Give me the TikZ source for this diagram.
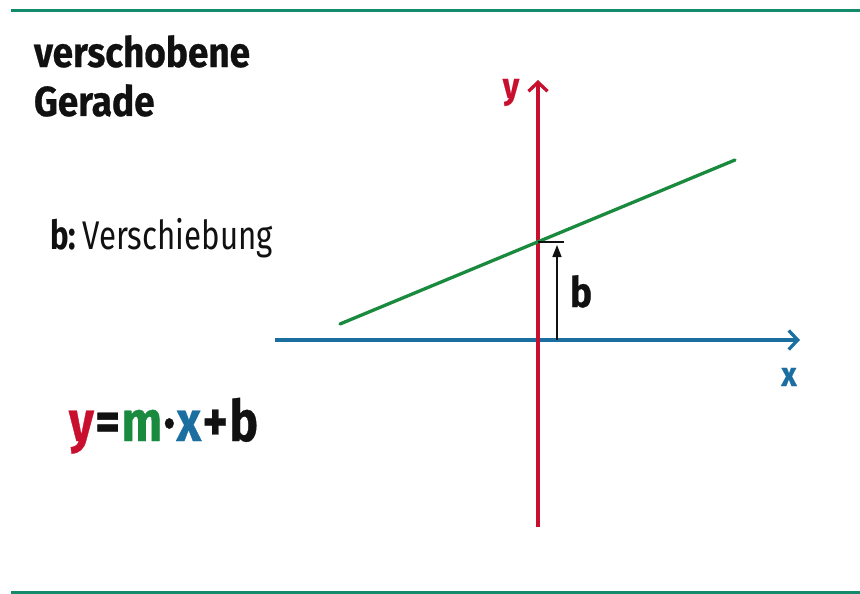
\documentclass[tikz,border=0pt]{standalone}
\usepackage{fontspec}
\setmainfont{Fira Sans}
\newfontfamily\titlefont{Fira Sans}[FakeStretch=0.88,BoldFeatures={FakeBold=0.6}]
\newfontfamily\descfont{Fira Sans}[FakeStretch=0.78]
\newfontfamily\formfont{Fira Sans}[FakeStretch=0.84,BoldFeatures={FakeBold=0.6}]
\usetikzlibrary{arrows.meta}
\definecolor{axred}{HTML}{C8102E}
\definecolor{axblue}{HTML}{1B6FA0}
\definecolor{lngreen}{HTML}{1A8A3E}
\definecolor{rulegreen}{HTML}{138A6A}
\definecolor{txtblack}{HTML}{111111}
\begin{document}
\begin{tikzpicture}[x=1pt,y=-1pt,
  rulestyle/.style={rulegreen,line width=3pt},
  axisstyle/.style={line width=3.3pt,-{Straight Barb[length=9pt,width=19pt]}},
  lbl/.style={inner sep=0pt,outer sep=0pt,text=txtblack}]
\useasboundingbox (0,0) rectangle (860,594);
% rules
\coordinate (rtl) at (11,11); \coordinate (rtr) at (860,11);
\coordinate (rbl) at (11,592); \coordinate (rbr) at (860,592);
\draw[rulestyle] (rtl) -- (rtr);
\draw[rulestyle] (rbl) -- (rbr);
% title
\node[lbl,anchor=base west] (t1) at (34,67) {\titlefont\bfseries\fontsize{42}{42}\selectfont verschobene};
\node[lbl,anchor=base west] (t2) at (34,116) {\titlefont\bfseries\fontsize{42}{42}\selectfont Gerade};
\node[lbl,anchor=base west] (desc) at (50,249) {\descfont\fontsize{40}{40}\selectfont\textbf{b:}\,Verschiebung};
\node[lbl,anchor=base west] (form) at (69,441) {\formfont\bfseries\fontsize{57}{57}\selectfont\textcolor{axred}{y}\hspace{1.5pt}=\hspace{1.5pt}\textcolor{lngreen}{m}\hspace{1.5pt}\textcolor{txtblack}{·}\hspace{1.5pt}\textcolor{axblue}{x}\hspace{1.5pt}+\hspace{1.5pt}b};
% axes
\coordinate (xl) at (275,340); \coordinate (xr) at (800,340);
\coordinate (yb) at (538,527); \coordinate (yt) at (538,80);
\draw[axisstyle,axblue] (xl) -- (xr);
\draw[axisstyle,axred] (yb) -- (yt);
\node[lbl,anchor=base,text=axblue] (xlab) at (789,386) {\titlefont\bfseries\fontsize{34}{34}\selectfont x};
\node[lbl,anchor=base,text=axred] (ylab) at (511,98) {\titlefont\bfseries\fontsize{36}{36}\selectfont y};
% line
\coordinate (g1) at (340,324); \coordinate (g2) at (735,160);
\draw[lngreen,line width=3.3pt,line cap=round] (g1) -- (g2);
% b marker
\coordinate (bi) at (538,242); \coordinate (bt) at (564,242);
\coordinate (ba) at (557,340); \coordinate (bb) at (557,245);
\draw[txtblack,line width=1.5pt] (bi) -- (bt);
\draw[txtblack,line width=1.5pt,-{Triangle[length=12pt,width=9pt]}] (ba) -- (bb);
\node[lbl,anchor=base west] (blab) at (570,307) {\titlefont\bfseries\fontsize{42}{42}\selectfont b};
\end{tikzpicture}
\end{document}
